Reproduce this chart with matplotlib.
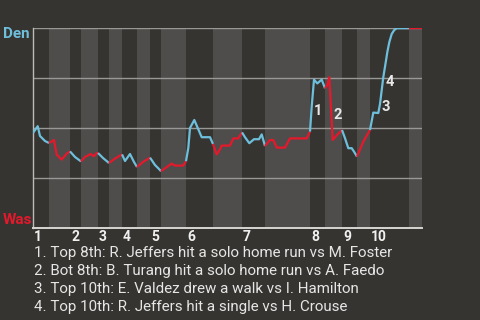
import matplotlib
matplotlib.use("Agg")
import matplotlib.pyplot as plt
from matplotlib.transforms import blended_transform_factory

plt.rcParams['font.family'] = ['Roboto', 'DejaVu Sans']

# game progress (x) and Denver win probability in percent
prog = [0, 4.7, 7, 12, 16, 21, 23.7, 28.7, 33.7, 37, 42, 48, 52, 57.7, 61, 63.7, 65,
        70, 76, 82, 89, 92, 97, 101, 104, 110, 117, 122, 126, 128, 138.7, 142, 150.3, 153,
        155.3, 157, 161.3, 168.7, 177, 180, 183.7, 187, 188.7, 197, 200.3, 205.3, 209,
        212, 216.3, 221, 226, 228.7, 232, 237, 240.3, 243.7, 252, 257, 273.7, 277,
        278.7, 281, 284.3, 288.7, 292, 294.3, 296.3, 299.7, 304, 309,
        312, 315.3, 318.7, 321, 324, 330.3, 337,
        340.3, 345.3, 347, 350.3, 353, 354.3, 356.3, 358.7, 361.3, 363.7, 376, 389]
den_wp = [47.5, 50.9, 46, 43.5, 42.5, 44, 36.7, 34.2, 37.2, 38.3, 35.5, 33.3, 35.5, 37, 35.9, 37.5, 37.5,
          35, 32.5, 34.7, 36.8, 33.5, 37, 33, 30.5, 33, 35.2, 31.5, 29.5, 28.4, 32.2, 31.2, 31.2, 33.4,
          40, 50, 54, 45.4, 45.4, 42, 36.8, 39.3, 41.2, 41.2, 44.8, 44.8, 47.8,
          45.4, 42.4, 44.4, 44.4, 46.8, 41, 44, 44, 40.2, 40.2, 44.8, 44.8, 48.2,
          60.7, 74.2, 72.3, 74.2, 69.9, 71.5, 75.4, 44, 46.5, 49,
          44.9, 39.9, 39.9, 38.2, 35.7, 43.2, 49,
          57.7, 57.5, 62, 75.4, 83.7, 87.9, 92.9, 97, 99, 99.9, 99.9, 100]

# half inning boundaries (top 1st, bot 1st, top 2nd, ...)
half_edges = [0, 16, 37, 48, 65, 76, 89, 104, 117, 128, 153, 180, 209, 232, 277, 292, 309, 324, 337, 376, 389]
innings = ['1', '2', '3', '4', '5', '6', '7', '8', '9', '10']

events = ['1. Top 8th: R. Jeffers hit a solo home run vs M. Foster',
          '2. Bot 8th: B. Turang hit a solo home run vs A. Faedo',
          '3. Top 10th: E. Valdez drew a walk vs I. Hamilton',
          '4. Top 10th: R. Jeffers hit a single vs H. Crouse']

bg = '#363430'
band = '#4e4d4b'
blue = '#6dbfdc'
red = '#e5182c'

fig = plt.figure(figsize=(4.8, 3.2), dpi=100, facecolor=bg)
ax = fig.add_axes([33/480, 1-228/320, 389/480, 200/320])
ax.set_facecolor(bg)

for i in range(len(half_edges)-1):
    if i % 2 == 1:
        ax.axvspan(half_edges[i], half_edges[i+1], color=band, lw=0, zorder=0)

for g in [25, 50, 75, 100]:
    ax.axhline(g, color='#9a9894', lw=1, zorder=1)

# line coloured by which team is batting
for i in range(len(half_edges)-1):
    lo, hi = half_edges[i], half_edges[i+1]
    xs = [x for x in prog if lo <= x <= hi]
    ys = [y for x, y in zip(prog, den_wp) if lo <= x <= hi]
    ax.plot(xs, ys, color=blue if i % 2 == 0 else red, lw=1.6, zorder=3,
            solid_capstyle='butt')

ax.set_xlim(0, 389)
ax.set_ylim(0, 100)
ax.set_xticks([])
ax.set_yticks([])
for s in ['top', 'right']:
    ax.spines[s].set_visible(False)
ax.spines['left'].set_color('#bdbbb7')
ax.spines['bottom'].set_color('#d8d6d2')
ax.spines['left'].set_linewidth(1)
ax.spines['bottom'].set_linewidth(1.4)

# big play markers
for txt, x, y in [('1', 285, 58.5), ('2', 305, 56.5), ('3', 353, 60.5), ('4', 357, 73)]:
    ax.text(x, y, txt, color='#e8e8e8', fontsize=10.5, fontweight='bold',
            ha='center', va='center', zorder=4)

trans = blended_transform_factory(ax.transData, fig.transFigure)
for lab, x in zip(innings, half_edges[0::2]):
    ax.text(x + 1, 1-237/320, lab, transform=trans, color='#f0f0f0', fontsize=10,
            fontweight='bold', ha='left', va='center')

fig.text(3/480, 1-34/320, 'Den', color=blue, fontsize=11, fontweight='bold', va='center')
fig.text(3/480, 1-219.5/320, 'Was', color=red, fontsize=11, fontweight='bold', va='center')

for i, e in enumerate(events):
    fig.text(34/480, 1-(253+18*i)/320, e, color='#e6e6e6', fontsize=10.9, va='center')

fig.savefig('out.png', dpi=100, facecolor=bg)
plt.close(fig)
